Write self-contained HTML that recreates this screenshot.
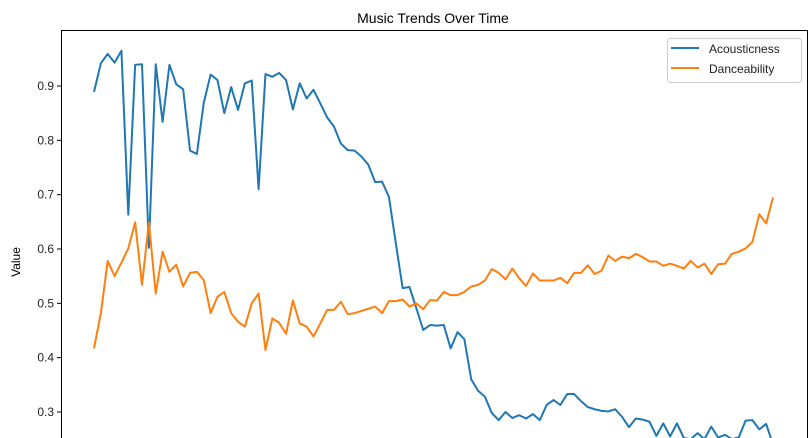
<!DOCTYPE html>
<html><head><meta charset="utf-8"><style>
body{margin:0;background:#fff;}
svg{display:block;font-family:"Liberation Sans","DejaVu Sans",sans-serif;}
</style></head><body>
<svg id="chart" width="810" height="438">
<rect x="0" y="0" width="810" height="438" fill="#fff"/>
<text x="433" y="23" text-anchor="middle" font-size="14" fill="#000">Music Trends Over Time</text>
<text transform="translate(20,262) rotate(-90)" text-anchor="middle" font-size="12" fill="#000">Value</text>
<g id="yaxis"></g>
<g id="series"></g>
<rect x="61.5" y="30.5" width="746" height="420" fill="none" stroke="#000" stroke-width="1"/>
<g>
<rect x="667.5" y="38.5" width="134" height="44" rx="3" fill="#fff" stroke="#ccc"/>
<line x1="671" y1="48" x2="699" y2="48" stroke="#1f77b4" stroke-width="2"/>
<text x="709" y="53" font-size="12" fill="#222">Acousticness</text>
<line x1="671" y1="68" x2="699" y2="68" stroke="#ff7f0e" stroke-width="2"/>
<text x="709" y="73" font-size="12" fill="#222">Danceability</text>
</g>
</svg>
<script>
const acousticness=[0.889,0.942,0.959,0.943,0.965,0.663,0.939,0.940,0.602,0.940,0.834,0.939,0.903,0.894,0.781,0.775,0.869,0.921,0.911,0.850,0.898,0.856,0.905,0.910,0.710,0.922,0.917,0.924,0.911,0.857,0.905,0.877,0.893,0.868,0.842,0.825,0.794,0.782,0.781,0.770,0.755,0.723,0.724,0.696,0.611,0.528,0.530,0.491,0.451,0.460,0.459,0.460,0.417,0.447,0.434,0.360,0.339,0.328,0.298,0.285,0.300,0.289,0.294,0.288,0.296,0.285,0.313,0.322,0.313,0.333,0.333,0.320,0.309,0.305,0.302,0.301,0.305,0.291,0.272,0.288,0.286,0.282,0.256,0.279,0.255,0.279,0.252,0.250,0.261,0.250,0.273,0.253,0.258,0.250,0.253,0.284,0.285,0.268,0.278,0.240];
const danceability=[0.417,0.482,0.578,0.550,0.575,0.601,0.649,0.534,0.649,0.518,0.595,0.558,0.571,0.531,0.556,0.558,0.543,0.482,0.512,0.521,0.482,0.466,0.457,0.500,0.518,0.414,0.472,0.464,0.444,0.505,0.463,0.457,0.439,0.463,0.488,0.488,0.503,0.480,0.482,0.486,0.490,0.494,0.482,0.504,0.504,0.507,0.494,0.500,0.489,0.506,0.505,0.521,0.515,0.515,0.521,0.531,0.534,0.542,0.563,0.556,0.544,0.564,0.546,0.532,0.555,0.542,0.542,0.542,0.547,0.537,0.556,0.556,0.570,0.554,0.560,0.588,0.578,0.586,0.583,0.591,0.585,0.577,0.577,0.569,0.573,0.569,0.564,0.578,0.566,0.573,0.554,0.572,0.573,0.591,0.595,0.601,0.613,0.664,0.647,0.695];
const yTicks=[0.3,0.4,0.5,0.6,0.7,0.8,0.9];
const yTickLabels=["0.3","0.4","0.5","0.6","0.7","0.8","0.9"];
const NS="http://www.w3.org/2000/svg";
const n=acousticness.length;
function xScale(i){return 94+i*(773-94)/(n-1);}
function yScale(v){return 86+(0.9-v)*543.3;}
const yaxis=document.getElementById('yaxis');
yTicks.forEach((t,k)=>{
  const y=yScale(t);
  const ln=document.createElementNS(NS,'line');
  ln.setAttribute('x1',57);ln.setAttribute('x2',61.5);ln.setAttribute('y1',y);ln.setAttribute('y2',y);
  ln.setAttribute('stroke','#000');
  
  
  yaxis.appendChild(ln);
  const tx=document.createElementNS(NS,'text');
  tx.setAttribute('x',54);tx.setAttribute('y',y+4);tx.setAttribute('text-anchor','end');
  tx.setAttribute('font-size','12');tx.setAttribute('fill','#222');
  tx.textContent=yTickLabels[k];
  
  
  yaxis.appendChild(tx);
});
const g=document.getElementById('series');
function addLine(arr,color,name){
  const p=document.createElementNS(NS,'polyline');
  p.setAttribute('points',arr.map((v,i)=>xScale(i).toFixed(2)+','+yScale(v).toFixed(2)).join(' '));
  p.setAttribute('fill','none');p.setAttribute('stroke',color);p.setAttribute('stroke-width','2');
  p.setAttribute('stroke-linejoin','round');
  
  
  g.appendChild(p);
}
addLine(acousticness,'#1f77b4','acousticness-line');
addLine(danceability,'#ff7f0e','danceability-line');
</script>
</body></html>
